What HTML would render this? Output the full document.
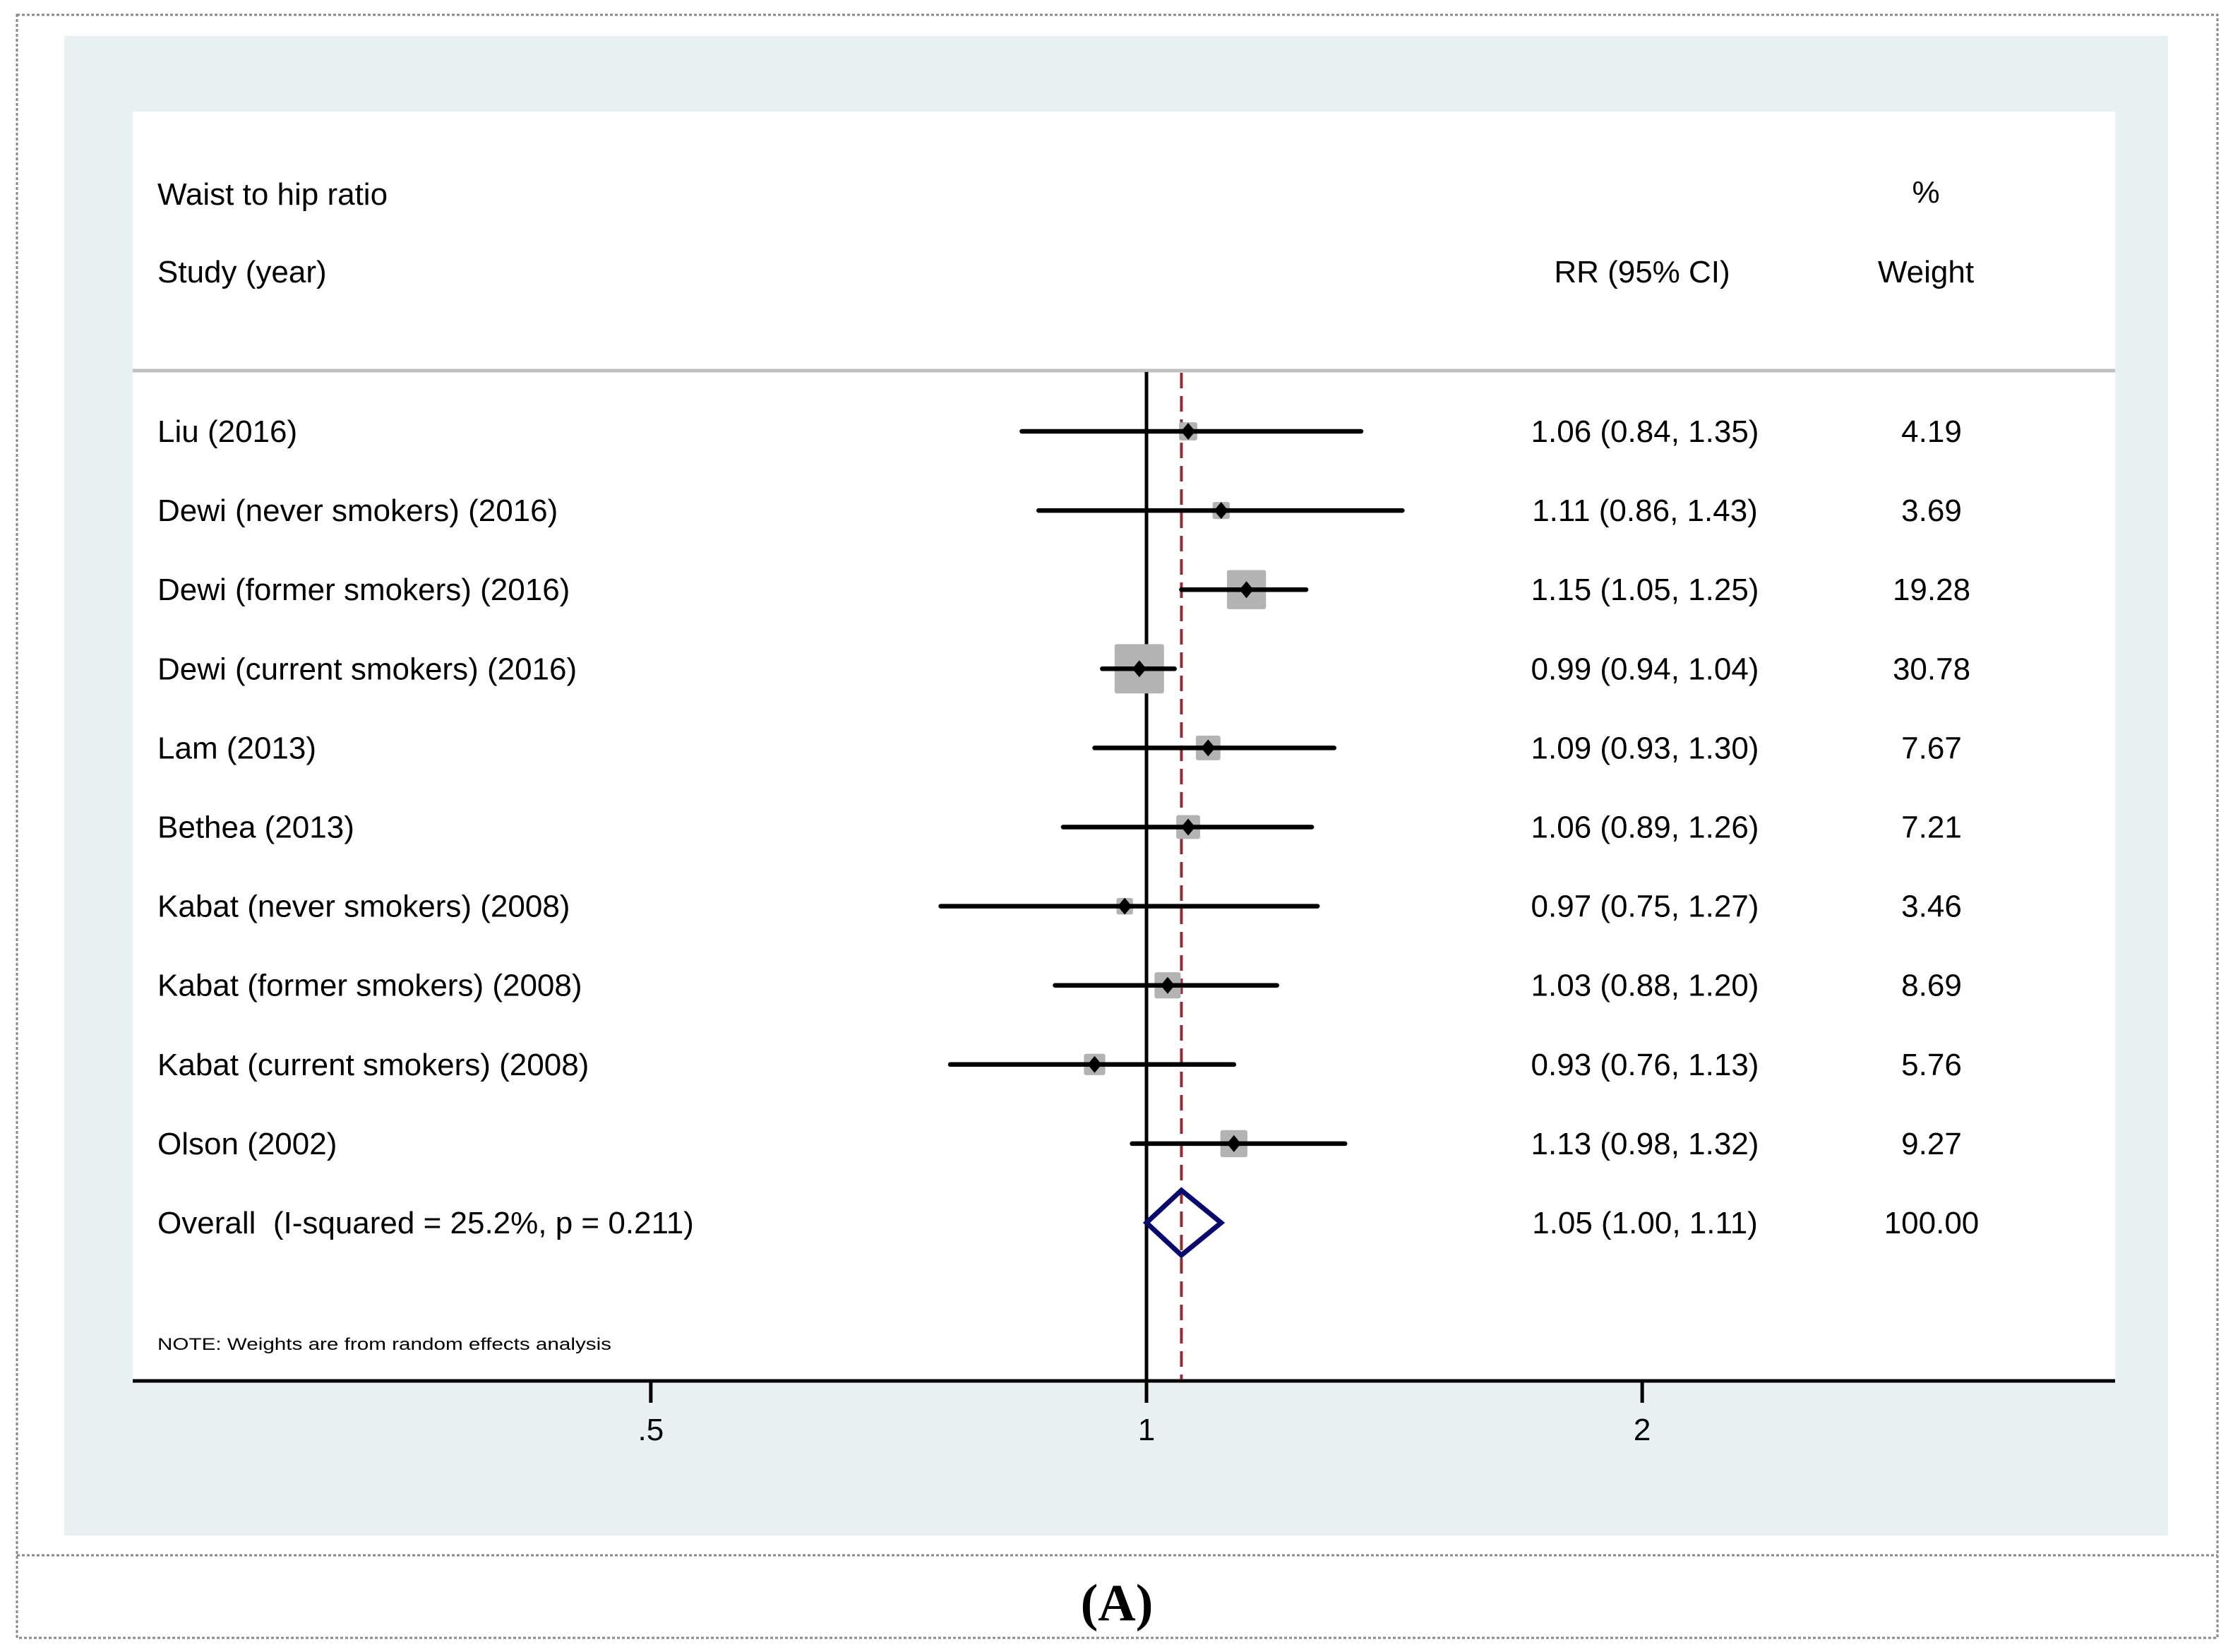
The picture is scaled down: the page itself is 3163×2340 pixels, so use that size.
<!DOCTYPE html>
<html><head><meta charset="utf-8"><style>
html,body{margin:0;padding:0;background:#fff;}
svg{display:block;font-family:"Liberation Sans",Arial,sans-serif;}
text{white-space:pre;}
</style></head><body>
<svg id="chart" width="3163" height="2340" viewBox="0 0 3163 2340" xmlns="http://www.w3.org/2000/svg">
<rect x="24" y="21" width="3117" height="2299" fill="none" stroke="#888" stroke-width="3" stroke-dasharray="4,3"/>
<line x1="24" y1="2203" x2="3141" y2="2203" stroke="#888" stroke-width="3" stroke-dasharray="4,3"/>
<rect x="91" y="51" width="2980" height="2124" fill="#e8f0f2"/>
<rect x="188" y="158" width="2808" height="1798" fill="#fff"/>
<line x1="188" y1="525" x2="2996" y2="525" stroke="#c0c0c0" stroke-width="5"/>
<text x="223" y="290" font-size="44">Waist to hip ratio</text>
<text x="223" y="400" font-size="44">Study (year)</text>
<text x="2326" y="400" font-size="44" text-anchor="middle">RR (95% CI)</text>
<text x="2728" y="287" font-size="44" text-anchor="middle">%</text>
<text x="2728" y="400" font-size="44" text-anchor="middle">Weight</text>
<text x="223" y="1912" font-size="24" textLength="643" lengthAdjust="spacingAndGlyphs">NOTE: Weights are from random effects analysis</text>
<text x="1582" y="2295" font-size="74" font-weight="bold" text-anchor="middle" font-family="Liberation Serif, serif">(A)</text>
<g id="marks"></g>
</svg>
<script>
const studies = ["Liu (2016)","Dewi (never smokers) (2016)","Dewi (former smokers) (2016)","Dewi (current smokers) (2016)","Lam (2013)","Bethea (2013)","Kabat (never smokers) (2008)","Kabat (former smokers) (2008)","Kabat (current smokers) (2008)","Olson (2002)"];
const rr = [1.06,1.11,1.15,0.99,1.09,1.06,0.97,1.03,0.93,1.13];
const lo = [0.84,0.86,1.05,0.94,0.93,0.89,0.75,0.88,0.76,0.98];
const hi = [1.35,1.43,1.25,1.04,1.30,1.26,1.27,1.20,1.13,1.32];
const weights = [4.19,3.69,19.28,30.78,7.67,7.21,3.46,8.69,5.76,9.27];
const overall = [1.05,1.00,1.11];
const overallLabel = "Overall  (I-squared = 25.2%, p = 0.211)";
const tickValues = [0.5,1,2];
const tickLabels = [".5","1","2"];

const NS="http://www.w3.org/2000/svg";
const g=document.getElementById('marks');
const x0=1624, kx=1013;
const xs=v=>x0+kx*Math.log(v);
const y0=611, dy=112.1;
const ys=i=>y0+dy*i;
function mk(tag,attrs){const e=document.createElementNS(NS,tag);for(const k in attrs)e.setAttribute(k,attrs[k]);g.appendChild(e);return e;}
function fmt(v){return v.toFixed(2);}

let ax=mk('line',{x1:188,y1:1956,x2:2996,y2:1956,stroke:'#000','stroke-width':5});


tickValues.forEach((t,i)=>{
  const tk=mk('line',{x1:xs(t),y1:1956,x2:xs(t),y2:1987,stroke:'#000','stroke-width':5});
  
  
  const tl=mk('text',{x:xs(t),y:2040,'font-size':44,'text-anchor':'middle'});
  tl.textContent=tickLabels[i];
  
  
});
let nl=mk('line',{x1:xs(1),y1:527,x2:xs(1),y2:1987,stroke:'#000','stroke-width':5});


let ol=mk('line',{x1:xs(overall[0]),y1:528,x2:xs(overall[0]),y2:1954,stroke:'#8b3038','stroke-width':4,'stroke-dasharray':'22,11'});



studies.forEach((s,i)=>{
  const y=ys(i);
  const side=12.6*Math.sqrt(weights[i]);
  const box=mk('rect',{x:xs(rr[i])-side/2,y:y-side/2,width:side,height:side,rx:3,fill:'#b3b3b3'});
  
  
  const ci=mk('line',{x1:xs(lo[i]),y1:y,x2:xs(hi[i]),y2:y,stroke:'#000','stroke-width':6.5,'stroke-linecap':'round'});
  
  
  const cx=xs(rr[i]);
  const pt=mk('polygon',{points:`${cx},${y-12} ${cx+10},${y} ${cx},${y+12} ${cx-10},${y}`,fill:'#000'});
  
  
  const lb=mk('text',{x:223,y:y+15,'font-size':44});
  lb.textContent=s;
  
  
  const rt=mk('text',{x:2330,y:y+15,'font-size':44,'text-anchor':'middle'});
  rt.textContent=`${fmt(rr[i])} (${fmt(lo[i])}, ${fmt(hi[i])})`;
  
  
  const wt=mk('text',{x:2736,y:y+15,'font-size':44,'text-anchor':'middle'});
  wt.textContent=fmt(weights[i]);
  
  
});
const yo=ys(studies.length);
const dm=mk('polygon',{points:`${xs(overall[1])},${yo} ${xs(overall[0])},${yo-46} ${xs(overall[2])},${yo} ${xs(overall[0])},${yo+46}`,fill:'none',stroke:'#0a0a6e','stroke-width':7});


const olb=mk('text',{x:223,y:yo+15,'font-size':44});
olb.textContent=overallLabel;


const ort=mk('text',{x:2330,y:yo+15,'font-size':44,'text-anchor':'middle'});
ort.textContent=`${fmt(overall[0])} (${fmt(overall[1])}, ${fmt(overall[2])})`;


const owt=mk('text',{x:2736,y:yo+15,'font-size':44,'text-anchor':'middle'});
owt.textContent="100.00";


</script>
</body></html>
